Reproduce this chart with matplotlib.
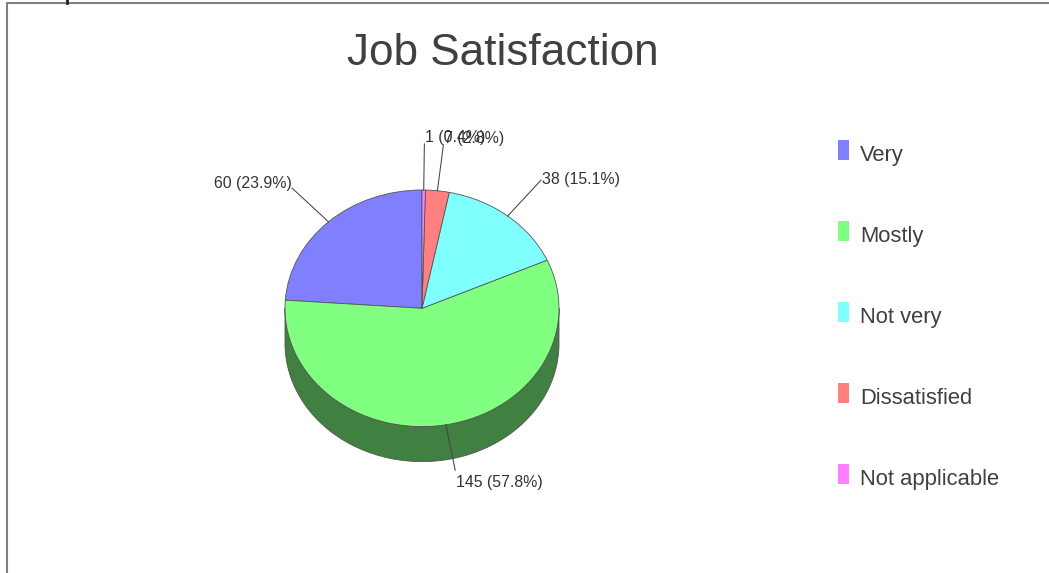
import matplotlib
matplotlib.use("Agg")
import matplotlib.pyplot as plt
import numpy as np
from matplotlib.colors import to_rgb
from matplotlib.patches import Polygon, Rectangle
from matplotlib.lines import Line2D

# ---- data ----
categories = ["Very", "Mostly", "Not very", "Dissatisfied", "Not applicable"]
counts = [60, 145, 38, 7, 1]
colors = ["#8080ff", "#80ff80", "#80ffff", "#ff8080", "#ff80ff"]
title = "Job Satisfaction"

plt.rcParams["font.family"] = ["Liberation Sans", "DejaVu Sans"]

W, H = 1049, 573
fig = plt.figure(figsize=(W / 100, H / 100), dpi=100)
ax = fig.add_axes([0, 0, 1, 1])

# pie geometry (pixels): centre, horizontal / vertical radius, extrusion depth
cx, cy = 422, 308.3
rx, ry = 137, 118.3
depth = 35

total = sum(counts)
wedges, _ = ax.pie(counts, colors=colors, startangle=90, counterclock=True,
                   radius=1, center=(0, 0),
                   wedgeprops=dict(edgecolor="#555555", linewidth=0.6,
                                   zorder=3))
# unequal x/y scales squash the circle into a tilted ellipse
ax.set_aspect("auto")
ax.set_xlim(-cx / rx, (W - cx) / rx)
ax.set_ylim(-(H - cy) / ry, cy / ry)
ax.axis("off")

# extruded side of the pie: only the front half (180..360 deg) is visible
d = depth / ry
for w, c in zip(wedges, colors):
    for lo, hi in ((180, 360), (540, 720)):
        a, b = max(w.theta1, lo), min(w.theta2, hi)
        if b > a:
            t = np.radians(np.linspace(a, b, 240))
            xs, ys = np.cos(t), np.sin(t)
            pts = np.column_stack([np.r_[xs, xs[::-1]], np.r_[ys, ys[::-1] - d]])
            dark = tuple(v * 0.5 for v in to_rgb(c))
            ax.add_patch(Polygon(pts, closed=True, facecolor=dark,
                                 edgecolor="#555555", lw=0.6, zorder=2))

# value labels with leader lines
r_label = 1.39
for w, n in zip(wedges, counts):
    mid = np.radians((w.theta1 + w.theta2) / 2)
    c, s = np.cos(mid), np.sin(mid)
    end = (r_label * c, r_label * s)
    ax.plot([c, end[0]], [s, end[1]], color="#444444", lw=0.75, zorder=4)
    text = f"{n} ({n / total * 100:.1f}%)"
    ha = "left" if c >= 0 else "right"
    if s > 0.9:
        off = (0.5, 2)
    elif s < -0.9:
        off = (1, -17)
    else:
        off = (0.5, -4) if c >= 0 else (0, 0)
    ax.annotate(text, xy=end, xytext=off, textcoords="offset pixels",
                ha=ha, va="baseline", fontsize=11.45, color="#333333", zorder=5)

# title
fig.text(503 / W, 1 - 65 / H, title, ha="center", va="baseline",
         fontsize=31.8, color="#404040")

# legend on the right
for i, (lab, col) in enumerate(zip(categories, colors)):
    top = 140 + 81.1 * i
    fig.add_artist(Rectangle((838 / W, 1 - (top + 20) / H), 11 / W, 20 / H,
                             transform=fig.transFigure, facecolor=col,
                             edgecolor="none"))
    fig.text(860 / W, 1 - (top + 20.5) / H, lab, ha="left", va="baseline",
             fontsize=15.8, color="#404040")

# panel frame (top and left edges)
fig.add_artist(Line2D([6.5 / W, 6.5 / W, 1], [0, 1 - 2.5 / H, 1 - 2.5 / H],
                      transform=fig.transFigure, color="#808080", lw=1.5))
fig.add_artist(Line2D([66.5 / W, 66.5 / W], [1, 1 - 3 / H],
                      transform=fig.transFigure, color="#222222", lw=2))

fig.savefig("out.png", dpi=100)
